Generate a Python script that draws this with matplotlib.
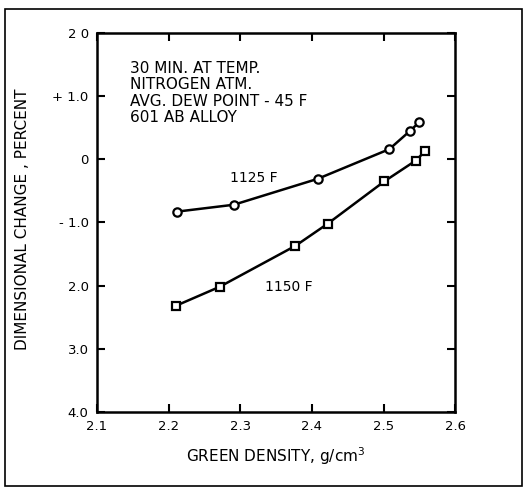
import matplotlib.pyplot as plt
from matplotlib.patches import Rectangle

# 1125 F curve (circles)
dens_1125 = [2.211, 2.291, 2.408, 2.508, 2.537, 2.550]
change_1125 = [-0.83, -0.72, -0.31, 0.16, 0.45, 0.59]

# 1150 F curve (squares)
dens_1150 = [2.210, 2.271, 2.377, 2.422, 2.501, 2.545, 2.558]
change_1150 = [-2.32, -2.02, -1.37, -1.02, -0.35, -0.02, 0.13]

yticks = [2.0, 1.0, 0.0, -1.0, -2.0, -3.0, -4.0]
ytick_labels = ["2 0", "+ 1.0", "0", "- 1.0", "2.0", "3.0", "4.0"]
xticks = [2.1, 2.2, 2.3, 2.4, 2.5, 2.6]
xtick_labels = ["2.1", "2.2", "2.3", "2.4", "2.5", "2.6"]

notes = "30 MIN. AT TEMP.\nNITROGEN ATM.\nAVG. DEW POINT - 45 F\n601 AB ALLOY"

fig = plt.figure(figsize=(5.3, 4.91), dpi=100)
ax = fig.add_axes([0.183, 0.161, 0.676, 0.772])

ax.plot(dens_1125, change_1125, color="black", lw=1.8, marker="o", ms=6,
        mfc="white", mec="black", mew=1.6)
ax.plot(dens_1150, change_1150, color="black", lw=1.8, marker="s", ms=6,
        mfc="white", mec="black", mew=1.6)

ax.set_xlim(2.1, 2.6)
ax.set_ylim(-4.0, 2.0)
ax.set_xticks(xticks)
ax.set_xticklabels(xtick_labels)
ax.set_yticks(yticks)
ax.set_yticklabels(ytick_labels)
ax.tick_params(direction="in", length=6, width=1.5, top=True, right=True,
               labelsize=9.5, pad=6)
for s in ax.spines.values():
    s.set_linewidth(1.8)

ax.text(2.146, 1.56, notes, fontsize=11, va="top", ha="left", linespacing=1.13)
ax.text(2.285, -0.30, "1125 F", fontsize=10, ha="left", va="center")
ax.text(2.334, -2.02, "1150 F", fontsize=10, ha="left", va="center")

ax.set_xlabel("GREEN DENSITY, g/cm$^3$", fontsize=11, labelpad=9)
fig.text(0.042, 0.553, "DIMENSIONAL CHANGE , PERCENT", rotation=90,
         fontsize=11, ha="center", va="center")

# scanned page border
fig.patches.append(Rectangle((0.01, 0.01), 0.975, 0.972, transform=fig.transFigure,
                             fill=False, lw=1.2, color="black"))

fig.savefig("out.png", dpi=100)
